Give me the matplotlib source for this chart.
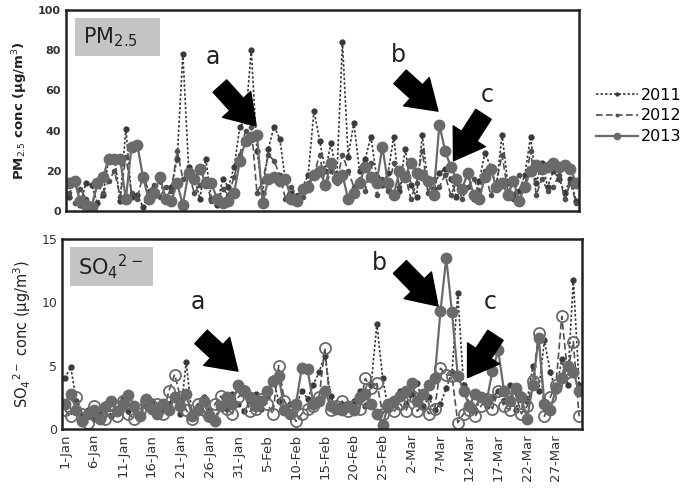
import matplotlib
matplotlib.use("Agg")
import matplotlib.pyplot as plt
import numpy as np

plt.rcParams['font.family'] = ['DejaVu Sans']

days = np.arange(90)
tick_pos = [0, 5, 10, 15, 20, 25, 30, 35, 40, 45, 50, 55, 60, 65, 70, 75, 80, 85]
tick_labels = ['1-Jan', '6-Jan', '11-Jan', '16-Jan', '21-Jan', '26-Jan', '31-Jan',
               '5-Feb', '10-Feb', '15-Feb', '20-Feb', '25-Feb', '2-Mar', '7-Mar',
               '12-Mar', '17-Mar', '22-Mar', '27-Mar']

pm_2011 = [7, 16, 3, 14, 13, 4, 8, 26, 27, 5, 41, 7, 8, 2, 9, 9, 15, 5, 12, 26,
           78, 22, 17, 6, 26, 6, 3, 16, 12, 22, 42, 45, 80, 30, 9, 31, 42, 36, 15, 9,
           6, 12, 18, 50, 35, 20, 34, 16, 84, 27, 44, 20, 26, 37, 17, 13, 19, 37, 10, 31,
           13, 7, 38, 14, 11, 19, 21, 16, 7, 12, 18, 6, 15, 29, 22, 12, 38, 14, 8, 10,
           18, 37, 14, 24, 12, 20, 16, 9, 16, 5]
pm_2012 = [9, 4, 11, 6, 2, 13, 9, 15, 20, 7, 27, 9, 6, 18, 10, 13, 7, 12, 10, 30,
           16, 19, 9, 13, 16, 5, 4, 11, 8, 17, 28, 40, 42, 9, 15, 28, 25, 18, 6, 12,
           8, 7, 14, 18, 28, 12, 20, 14, 28, 20, 12, 16, 10, 24, 8, 16, 10, 24, 12, 18,
           6, 14, 30, 9, 16, 12, 18, 8, 14, 6, 12, 16, 10, 20, 8, 14, 28, 10, 6, 18,
           12, 30, 8, 16, 10, 12, 18, 6, 14, 4]
pm_2013 = [14, 15, 5, 3, 2, 14, 17, 26, 26, 26, 6, 32, 33, 17, 6, 9, 17, 6, 5, 14,
           3, 19, 16, 21, 14, 14, 6, 4, 5, 9, 25, 35, 37, 38, 4, 16, 17, 15, 16, 6,
           5, 11, 12, 18, 20, 13, 24, 16, 18, 6, 9, 14, 22, 17, 14, 32, 14, 8, 20, 17,
           24, 19, 18, 15, 8, 43, 30, 22, 16, 11, 19, 8, 6, 17, 21, 12, 14, 8, 15, 5,
           12, 20, 23, 21, 22, 24, 22, 23, 21, 14]

so4_2011 = [4.0, 4.9, 2.2, 1.0, 1.5, 0.8, 1.2, 2.0, 1.0, 1.6, 2.4, 1.4, 2.0, 1.2, 1.8,
            2.2, 1.0, 1.6, 2.0, 2.6, 1.2, 5.3, 1.0, 1.8, 2.5, 1.4, 0.8, 2.0, 1.6, 2.8,
            2.0, 1.4, 2.2, 2.8, 1.6, 2.5, 4.0, 2.2, 1.5, 2.0, 1.8, 3.0, 2.4, 3.5, 4.5,
            5.8, 2.6, 1.5, 2.0, 1.6, 2.2, 3.0, 1.8, 3.5, 8.3, 4.0, 1.5, 2.2, 3.0, 2.0,
            2.8, 3.6, 1.8, 2.5, 1.5, 2.0, 3.2, 4.5, 10.7, 3.5, 2.0, 1.5, 2.4, 1.8, 2.5,
            3.0, 2.2, 3.5, 1.5, 2.8, 2.2, 5.0, 3.0, 7.0, 4.5, 3.0, 5.5, 3.5, 11.8, 3.5]
so4_2012 = [1.5, 1.0, 2.5, 1.2, 0.5, 1.8, 1.0, 0.8, 1.5, 1.0, 2.2, 1.2, 0.8, 1.5, 2.2,
            1.8, 2.0, 1.2, 3.0, 4.3, 2.5, 1.5, 0.8, 2.0, 1.5, 1.0, 2.0, 2.6, 1.6, 1.2,
            2.5, 3.0, 1.4, 1.6, 2.4, 2.0, 1.2, 5.0, 2.2, 1.5, 0.6, 1.2, 1.6, 1.8, 2.5,
            6.4, 1.5, 1.8, 2.2, 1.4, 1.8, 1.6, 4.0, 3.2, 3.6, 1.2, 1.8, 1.4, 2.0, 1.4,
            2.6, 1.4, 2.0, 1.2, 1.6, 4.8, 4.3, 4.2, 0.5, 1.2, 1.5, 1.0, 1.8, 2.4, 1.6,
            3.0, 1.8, 1.5, 2.8, 1.2, 1.8, 3.8, 7.6, 1.0, 2.5, 3.5, 8.9, 4.5, 6.9, 1.0]
so4_2013 = [2.0, 2.8, 1.5, 0.6, 1.2, 1.5, 0.8, 1.7, 2.2, 1.4, 2.0, 2.7, 1.8, 1.0, 2.4,
            1.6, 1.2, 2.0, 1.5, 2.5, 1.8, 2.8, 1.0, 1.5, 2.2, 1.0, 0.6, 1.8, 2.5, 2.0,
            3.5, 3.0, 2.5, 1.8, 2.2, 3.0, 3.8, 4.2, 1.5, 1.2, 2.0, 4.8, 4.7, 2.0, 2.2,
            3.0, 1.8, 1.6, 1.5, 1.8, 1.5, 2.5, 2.8, 2.0, 1.2, 0.3, 2.0, 2.2, 2.6, 3.0,
            3.6, 2.2, 2.8, 3.5, 4.0, 9.3, 13.5, 9.2, 4.2, 3.0, 1.8, 2.8, 2.5, 2.2, 4.6,
            6.2, 3.0, 2.2, 3.2, 2.5, 0.8, 3.5, 7.2, 2.0, 1.5, 3.2, 4.0, 5.0, 4.5, 3.0]

W, H = 683, 496
fig = plt.figure(figsize=(W / 100, H / 100), dpi=100)

def px_ax(l, t, r, b):
    return fig.add_axes([l / W, 1 - b / H, (r - l) / W, (b - t) / H])

ax1 = px_ax(66, 10, 579, 211)
ax2 = px_ax(62, 239, 582, 429)

c11, c12, c13 = '#3a3a3a', '#505050', '#6a6a6a'

l11, = ax1.plot(days, pm_2011, linestyle=(0, (1.5, 1.2)), color=c11, lw=1.2,
                marker='o', ms=3.5, label='2011')
l12, = ax1.plot(days, pm_2012, linestyle=(0, (4, 2)), color=c12, lw=1.2,
                marker='o', ms=3, label='2012')
l13, = ax1.plot(days, pm_2013, linestyle='-', color=c13, lw=1.6,
                marker='o', ms=7.5, label='2013')

ax2.plot(days, so4_2011, linestyle=(0, (1.5, 1.2)), color=c11, lw=1.2,
         marker='o', ms=3.5)
ax2.plot(days, so4_2012, linestyle=(0, (4, 2)), color=c12, lw=1.2,
         marker='o', ms=8, mfc='none', mec='#6a6a6a', mew=1.3)
ax2.plot(days, so4_2013, linestyle='-', color=c13, lw=1.6,
         marker='o', ms=7.5)

for ax in (ax1, ax2):
    ax.set_xlim(-0.5, 89.5)
    for s in ax.spines.values():
        s.set_linewidth(1.8)
        s.set_color('#222222')
    ax.tick_params(axis='both', length=0, colors='#333333')

ax1.set_ylim(0, 100)
ax1.set_yticks([0, 20, 40, 60, 80, 100])
ax1.set_xticks([])
for t in ax1.get_yticklabels():
    t.set_fontsize(8)
    t.set_fontweight('bold')
ax1.set_ylabel('PM$_{2.5}$ conc (μg/m$^3$)', fontsize=9.5, fontweight='bold',
               color='#222222', labelpad=6)

ax2.set_ylim(0, 15)
ax2.set_yticks([0, 5, 10, 15])
ax2.set_xticks(tick_pos)
ax2.set_xticklabels(tick_labels, rotation=90, fontsize=9.5, color='#333333')
for t in ax2.get_yticklabels():
    t.set_fontsize(9)
ax2.set_ylabel('SO$_4$$^{2-}$ conc (μg/m$^3$)', fontsize=10.5, color='#222222',
               labelpad=6)

# Label boxes
def fig_box(l, t, r, b, text):
    fig.patches.append(plt.Rectangle((l / W, 1 - b / H), (r - l) / W, (b - t) / H,
                                     transform=fig.transFigure, facecolor='#c4c4c4',
                                     edgecolor='none', zorder=5))
    fig.text((l + 8) / W, 1 - (t + b) / 2 / H, text, fontsize=15, color='#222222',
             va='center', ha='left', zorder=6)

fig_box(75, 18, 160, 56, 'PM$_{2.5}$')
fig_box(70, 247, 153, 286, 'SO$_4$$^{2-}$')

# Arrows and letters
def arrow(x0, y0, x1, y1):
    fig.patches.append(matplotlib.patches.FancyArrowPatch(
        (x0 / W, 1 - y0 / H), (x1 / W, 1 - y1 / H), transform=fig.transFigure,
        arrowstyle='simple,head_width=1.25,head_length=0.95,tail_width=0.6',
        mutation_scale=22, color='black', zorder=7))

def letter(x, y, s):
    fig.text(x / W, 1 - y / H, s, fontsize=17, ha='center', va='center',
             color='#222222')

letter(213, 57, 'a'); arrow(218, 84, 258, 128)
letter(398, 55, 'b'); arrow(398, 75, 440, 113)
letter(487, 95, 'c'); arrow(485, 112, 452, 163)

letter(198, 302, 'a'); arrow(199, 335, 240, 373)
letter(379, 263, 'b'); arrow(398, 265, 440, 308)
letter(490, 302, 'c'); arrow(497, 333, 466, 380)

fig.legend(handles=[l11, l12, l13], labels=['2011', '2012', '2013'],
           loc='center left', bbox_to_anchor=(590 / W, 1 - 116 / H), frameon=False,
           fontsize=11.5, handlelength=2.6, handletextpad=0.2, labelspacing=0.35,
           borderaxespad=0, markerscale=0.6)

fig.savefig('out.png', dpi=100)
